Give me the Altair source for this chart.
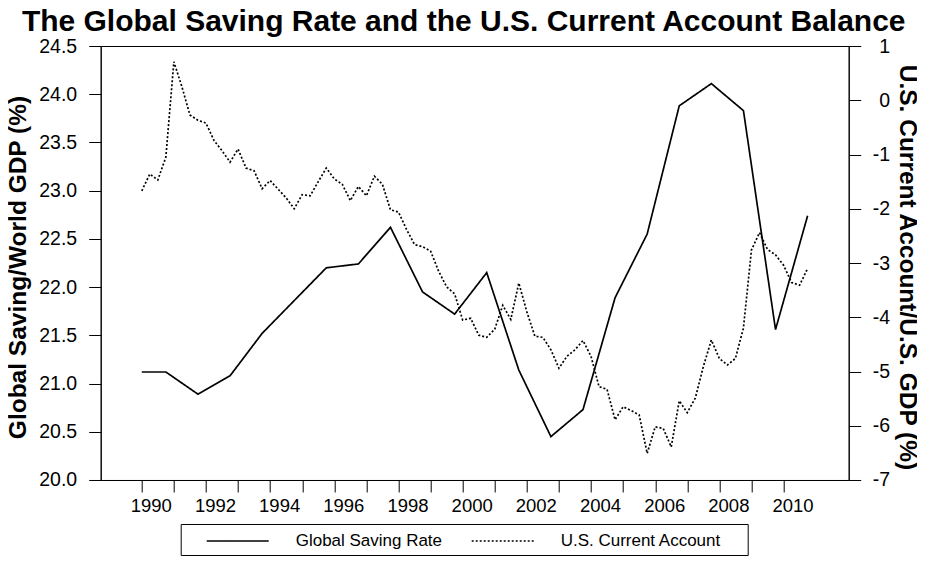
import altair as alt
import pandas as pd

# Global saving rate (% of world GDP), annual
sav_x = [1990.0, 1990.75, 1991.75, 1992.75, 1993.75, 1994.75, 1995.75, 1996.75,
         1997.75, 1998.75, 1999.75, 2000.75, 2001.75, 2002.75, 2003.75, 2004.75,
         2005.75, 2006.75, 2007.75, 2008.75, 2009.75, 2010.75]
sav_values = [21.12, 21.12, 20.89, 21.08, 21.52, 21.86, 22.20, 22.24,
              22.62, 21.95, 21.72, 22.15, 21.14, 20.45, 20.73, 21.89,
              22.55, 23.88, 24.11, 23.83, 21.56, 22.74]

# U.S. current account (% of U.S. GDP), quarterly 1990Q1 - 2010Q4
ca_values = [-1.67, -1.36, -1.47, -1.05, 0.71, 0.25, -0.27, -0.37, -0.42, -0.74,
             -0.93, -1.14, -0.90, -1.25, -1.30, -1.63, -1.48, -1.64, -1.80, -2.00,
             -1.74, -1.76, -1.50, -1.25, -1.45, -1.55, -1.85, -1.59, -1.76, -1.40,
             -1.55, -2.02, -2.06, -2.38, -2.66, -2.70, -2.78, -3.15, -3.44, -3.57,
             -4.05, -4.02, -4.33, -4.37, -4.22, -3.78, -4.04, -3.37, -3.90, -4.35,
             -4.37, -4.60, -4.94, -4.72, -4.60, -4.43, -4.72, -5.28, -5.33, -5.89,
             -5.65, -5.72, -5.80, -6.51, -6.02, -6.05, -6.39, -5.54, -5.76, -5.49,
             -4.91, -4.42, -4.76, -4.88, -4.76, -4.20, -2.76, -2.44, -2.75, -2.85,
             -3.04, -3.36, -3.41, -3.10]
ca_x = [1990 + i / 4 for i in range(len(ca_values))]

series_names = ["Global Saving Rate", "U.S. Current Account"]
left_ticks = [20.0, 20.5, 21.0, 21.5, 22.0, 22.5, 23.0, 23.5, 24.0, 24.5]
right_ticks = [-7, -6, -5, -4, -3, -2, -1, 0, 1]
year_ticks = list(range(1990, 2011))

sav_df = pd.DataFrame({"x": sav_x, "y": sav_values, "series": series_names[0]})
ca_df = pd.DataFrame({"x": ca_x, "y": ca_values, "series": series_names[1]})

FONT = "Liberation Sans"

x_enc = alt.X(
    "x:Q",
    scale=alt.Scale(domain=[1988.72, 2012.03], nice=False, zero=False),
    axis=alt.Axis(
        values=year_ticks, title=None, grid=False,
        labelExpr="datum.value % 2 === 0 ? format(datum.value, 'd') : ''",
        tickSize=12, labelPadding=5, labelOffset=9, labelFontSize=18.5,
        labelFont=FONT, labelColor="black", domainColor="black", tickColor="black",
        labelFlush=False, labelOverlap=False,
    ),
)

dash_enc = alt.StrokeDash(
    "series:N",
    scale=alt.Scale(domain=series_names, range=[[1, 0], [2, 2]]),
    legend=alt.Legend(title=" ", titleOrient="right", titlePadding=20),
)

left = alt.Chart(sav_df).mark_line(color="black", strokeWidth=1.7).encode(
    x=x_enc,
    y=alt.Y(
        "y:Q",
        scale=alt.Scale(domain=[20, 24.5], nice=False, zero=False),
        axis=alt.Axis(
            orient="left", values=left_ticks, format=".1f", grid=False,
            title="Global Saving/World GDP (%)", titleFontSize=24.5, titleFont=FONT,
            titleFontWeight="bold", titleColor="black", titleX=-70, titleY=221,
            tickSize=12, labelPadding=12, labelFontSize=19.5, labelFont=FONT,
            labelColor="black", domainColor="black", tickColor="black",
            labelFlush=False,
        ),
    ),
    strokeDash=dash_enc,
)

right = alt.Chart(ca_df).mark_line(color="black", strokeWidth=1.7).encode(
    x=x_enc,
    y=alt.Y(
        "y:Q",
        scale=alt.Scale(domain=[-7, 1], nice=False, zero=False),
        axis=alt.Axis(
            orient="right", values=right_ticks, grid=False,
            labelExpr="'' + datum.value",
            title="U.S. Current Account/U.S. GDP (%)", titleFontSize=24.5, titleFont=FONT,
            titleFontWeight="bold", titleColor="black", titleX=46, titleY=221,
            tickSize=12, labelPadding=29, labelAlign="right", labelFontSize=19.5,
            labelFont=FONT, labelColor="black", domainColor="black", tickColor="black",
            labelFlush=False,
        ),
    ),
    strokeDash=dash_enc,
)

chart = (
    alt.layer(left, right)
    .resolve_scale(y="independent")
    .properties(
        width=748,
        height=434,
        padding={"left": 92.7, "top": 38, "right": 68, "bottom": 77},
        autosize=alt.AutoSizeParams(type="none"),
        title=alt.TitleParams(
            text="The Global Saving Rate and the U.S. Current Account Balance",
            font=FONT, fontSize=30, fontWeight="bold",
            color="black", anchor="middle", offset=-1, dx=-11,
        ),
    )
    .configure_view(stroke="black", strokeWidth=1)
    .configure_legend(
        orient="none", legendX=80, legendY=478, direction="horizontal",
        strokeColor="black", padding=6, symbolType="M-3.1,0H3.1", symbolSize=400,
        symbolStrokeWidth=1.7, symbolStrokeColor="black", labelFontSize=17,
        labelFont=FONT, labelColor="black", labelOffset=47, columnPadding=9,
        symbolOffset=40, cornerRadius=0, labelLimit=400,
    )
)

chart.save("out.html", embed_options={"renderer": "svg", "actions": False})
